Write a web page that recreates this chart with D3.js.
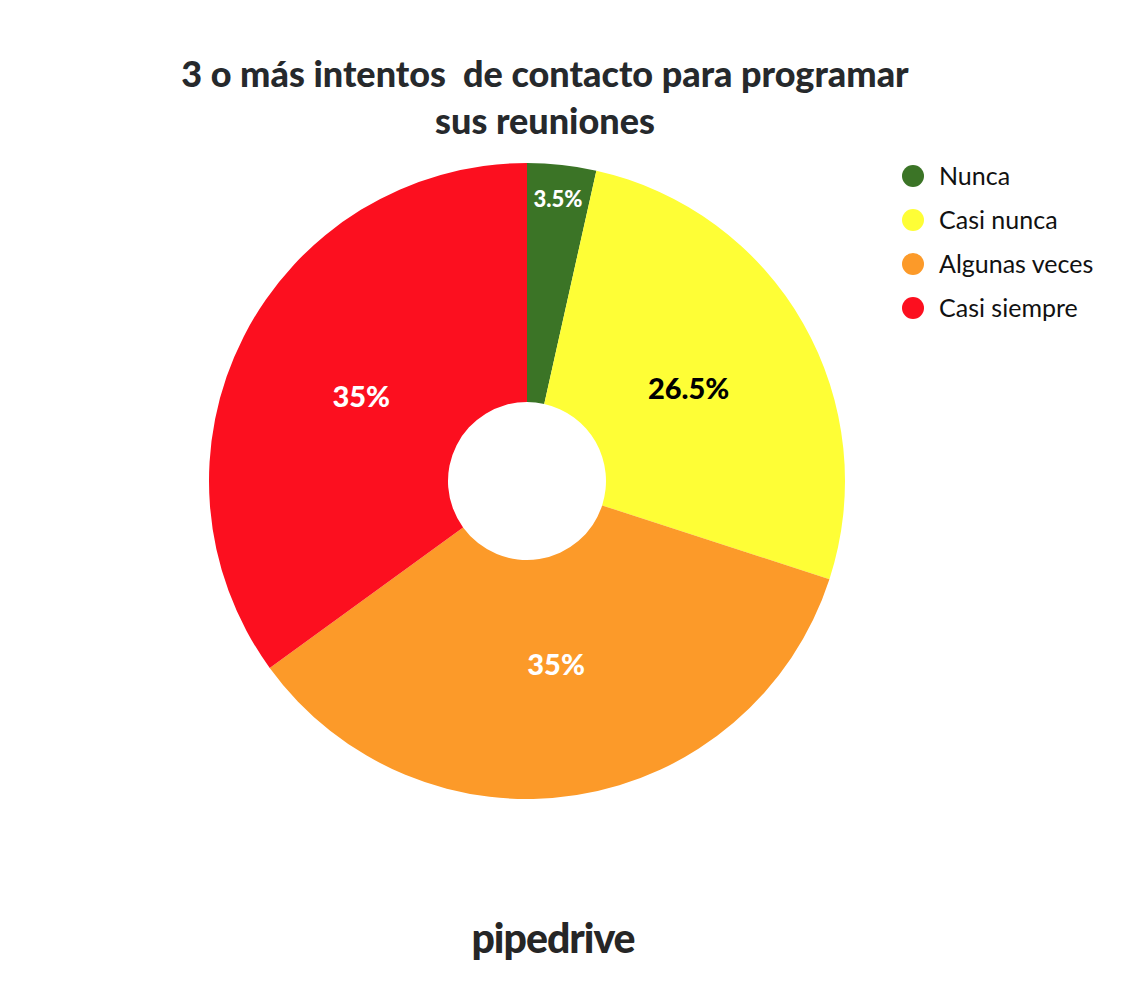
<!DOCTYPE html>
<html><head><meta charset="utf-8">
<script src="https://cdn.jsdelivr.net/npm/d3@7"></script>
<style>body{margin:0;background:#fff}</style>
</head><body>
<svg id="c" width="1130" height="1000"></svg>
<script>
const categories = ["Nunca", "Casi nunca", "Algunas veces", "Casi siempre"];
const values = [3.5, 26.5, 35, 35];
const labels = ["3.5%", "26.5%", "35%", "35%"];
const colors = ["#3b7426", "#fefe36", "#fc9a29", "#fc0f1f"];
const labelColors = ["#ffffff", "#000000", "#ffffff", "#ffffff"];
const titleLines = ["3 o más intentos  de contacto para programar", "sus reuniones"];

const svg = d3.select("#c");
const font = "Lato, 'Source Sans Pro', sans-serif";
const cx = 527, cy = 481, R = 318, r0 = 79;

svg.append("g").selectAll("text").data(titleLines).join("text")
  .attr("x", 545).attr("y", (d,i) => 87 + i*47)
  .attr("text-anchor", "middle")
  .attr("font-family", font).attr("font-weight", 900).attr("font-size", 36)
  .attr("fill", "#26292c").style("white-space","pre").text(d => d);

const pie = d3.pie().sort(null).value(d => d);
const arcs = pie(values);
const arc = d3.arc().innerRadius(r0).outerRadius(R);
const g = svg.append("g").attr("transform", `translate(${cx},${cy})`);
g.selectAll("path").data(arcs).join("path")
  .attr("d", arc).attr("fill", (d,i) => colors[i]);

const small = d => (d.endAngle - d.startAngle) < 0.4;
g.selectAll("text").data(arcs).join("text")
  .attr("transform", d => {
    const rr = small(d) ? R*0.89 : R*0.585;
    const a = (d.startAngle + d.endAngle)/2;
    return `translate(${Math.sin(a)*rr},${-Math.cos(a)*rr})`;
  })
  .attr("text-anchor", "middle").attr("dy", "0.35em")
  .attr("font-family", font).attr("font-weight", 900)
  .attr("font-size", d => small(d) ? 22 : 29)
  .attr("fill", (d,i) => labelColors[i]).text((d,i) => labels[i]);

const lg = svg.append("g").selectAll("g").data(categories).join("g")
  .attr("transform", (d,i) => `translate(913,${176 + i*44})`);
lg.append("circle").attr("r", 11).attr("fill", (d,i) => colors[i]);
lg.append("text").attr("x", 26).attr("dy", "0.35em")
  .attr("font-family", font).attr("font-size", 25).attr("fill", "#111")
  .text(d => d);

svg.append("text").attr("x", 553).attr("y", 953).attr("text-anchor", "middle")
  .attr("font-family", font).attr("font-weight", 900).attr("font-size", 41)
  .attr("fill", "#262626").attr("letter-spacing", -1).text("pipedrive");
</script>
</body></html>
